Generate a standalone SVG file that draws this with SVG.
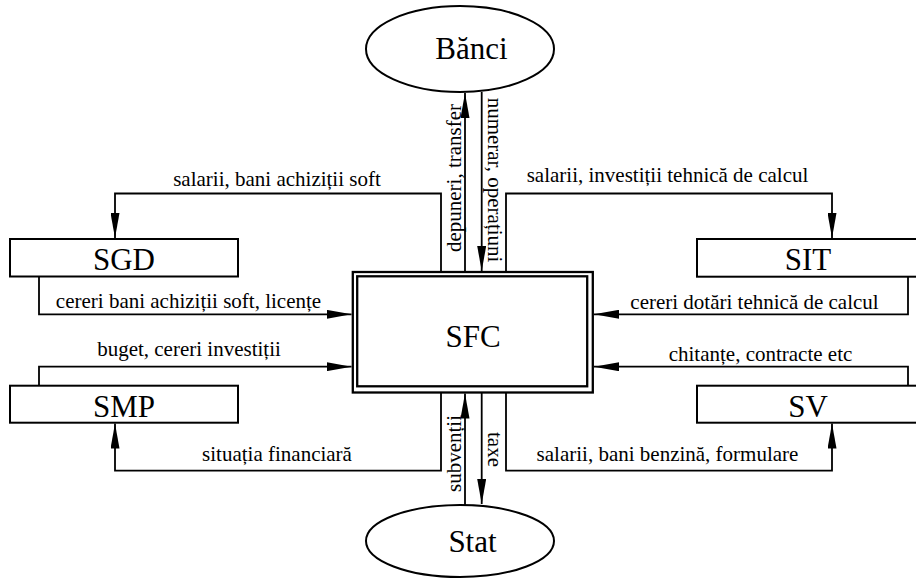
<svg xmlns="http://www.w3.org/2000/svg" width="916" height="581" viewBox="0 0 916 581">
  <style>
    .box { fill: #fff; stroke: #000; stroke-width: 2; }
    .ell { fill: #fff; stroke: #000; stroke-width: 2; }
    .frame { fill: none; stroke: #000; stroke-width: 2.3; }
    .wire { fill: none; stroke: #000; stroke-width: 1.8; }
    .arr { marker-end: url(#head); }
    text { font-family: 'Liberation Serif', 'DejaVu Serif', 'Times New Roman', serif; fill: #000; text-anchor: middle; }
    .node { font-size: 31px; }
    .lbl { font-size: 21px; }
  </style>
  <defs>
    <marker id="head" viewBox="0 0 25 9" refX="25" refY="4.5" markerWidth="25" markerHeight="9" markerUnits="userSpaceOnUse" orient="auto">
      <path d="M0,0 L25,4.5 L0,9 Z" fill="#000"/>
    </marker>
  </defs>
  <rect width="916" height="581" fill="#fff"/>

  <!-- connectors -->
  <g id="connectors">
    <path class="wire arr" d="M441,272 V193.5 H115 V238"/>
    <path class="wire arr" d="M465,272 V93"/>
    <path class="wire arr" d="M481.7,92 V271"/>
    <path class="wire arr" d="M506,272 V193.5 H832 V238"/>
    <path class="wire arr" d="M39,276.5 V314.3 H351.5"/>
    <path class="wire arr" d="M908,276.7 V314.3 H594"/>
    <path class="wire arr" d="M39,385.7 V366.7 H351.5"/>
    <path class="wire arr" d="M908,385.7 V366.7 H594"/>
    <path class="wire arr" d="M441,392.5 V470.7 H115 V423.5"/>
    <path class="wire arr" d="M465,505 V393.5"/>
    <path class="wire arr" d="M481.7,392.5 V504"/>
    <path class="wire arr" d="M506,392.5 V470.7 H832 V423.5"/>

    <text class="lbl" x="277" y="185.5" font-family="Liberation Serif, serif">salarii, bani achiziții soft</text>
    <text class="lbl" x="667.5" y="181.5">salarii, investiții tehnică de calcul</text>
    <text class="lbl" x="188.5" y="307.5">cereri bani achiziții soft, licențe</text>
    <text class="lbl" x="754.5" y="308.5">cereri dotări tehnică de calcul</text>
    <text class="lbl" x="189" y="356">buget, cereri investiții</text>
    <text class="lbl" x="760.5" y="360.5">chitanțe, contracte etc</text>
    <text class="lbl" x="277" y="460.5">situația financiară</text>
    <text class="lbl" x="667.5" y="460.5">salarii, bani benzină, formulare</text>
    <text class="lbl" transform="translate(460.5,178) rotate(-90)">depuneri, transfer</text>
    <text class="lbl" transform="translate(487.5,180) rotate(90)">numerar, operațiuni</text>
    <text class="lbl" transform="translate(460.5,453.5) rotate(-90)">subvenții</text>
    <text class="lbl" transform="translate(487.5,449.5) rotate(90)">taxe</text>
  </g>

  <g id="banci">
    <ellipse class="ell" cx="460" cy="49" rx="94" ry="43"/>
    <text class="node" x="471.5" y="59">Bănci</text>
  </g>

  <g id="stat">
    <ellipse class="ell" cx="460" cy="541" rx="94" ry="36"/>
    <text class="node" x="472.5" y="552">Stat</text>
  </g>

  <g id="sfc">
    <rect x="352.8" y="272" width="240" height="120.5" fill="#fff" class="frame"/>
    <rect x="357.2" y="276.3" width="230" height="110" class="frame"/>
    <text class="node" x="473" y="347">SFC</text>
  </g>

  <g id="sgd">
    <rect class="box" x="10" y="239" width="228" height="37.5"/>
    <text class="node" x="124" y="269.5">SGD</text>
  </g>

  <g id="sit">
    <rect class="box" x="697" y="239" width="228" height="37.7"/>
    <text class="node" x="808" y="270">SIT</text>
  </g>

  <g id="smp">
    <rect class="box" x="10" y="385.7" width="228" height="37"/>
    <text class="node" x="124" y="416.7">SMP</text>
  </g>

  <g id="sv">
    <rect class="box" x="697" y="385.7" width="228" height="37"/>
    <text class="node" x="808" y="416.7">SV</text>
  </g>
</svg>
